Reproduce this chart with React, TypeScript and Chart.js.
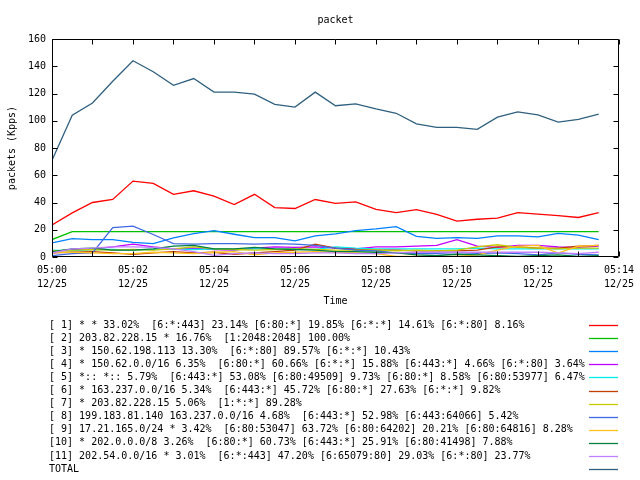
import React, { useEffect, useRef } from "react";
import { Chart, registerables } from "chart.js";

Chart.register(...registerables);

const times = [
  "05:00:00", "05:00:30", "05:01:00", "05:01:30", "05:02:00", "05:02:30", "05:03:00",
  "05:03:30", "05:04:00", "05:04:30", "05:05:00", "05:05:30", "05:06:00", "05:06:30",
  "05:07:00", "05:07:30", "05:08:00", "05:08:30", "05:09:00", "05:09:30", "05:10:00",
  "05:10:30", "05:11:00", "05:11:30", "05:12:00", "05:12:30", "05:13:00", "05:13:30",
];

const s1 = [23.5, 32.4, 40, 42.2, 55.7, 54, 46, 48.6, 44.7, 38.5, 46, 36.3, 35.6, 42.2, 39.3, 40.5, 35, 32.6, 34.8, 31.2, 26.3, 27.7, 28.5, 32.6, 31.4, 30.4, 29, 32.6];
const s2 = [12.8, 18.6, 18.6, 18.6, 18.6, 18.6, 18.6, 18.6, 18.6, 18.6, 18.6, 18.6, 18.6, 18.6, 18.6, 18.6, 18.6, 18.6, 18.6, 18.6, 18.6, 18.6, 18.6, 18.6, 18.6, 18.6, 18.6, 18.6];
const s3 = [10.3, 13.5, 12.8, 12.8, 10.8, 9.8, 14, 17.2, 19.4, 16.7, 14.2, 14.2, 11.8, 15.5, 17, 19.4, 20.6, 22.3, 15.2, 13.7, 14.2, 13.7, 15.5, 15.5, 14.7, 17.4, 16, 12.8];
const s4 = [4, 5.5, 6, 7.5, 9.5, 7.5, 6, 6.5, 5.5, 5, 6.5, 7.5, 7, 7.5, 6.5, 6, 7.5, 7.5, 8, 8.6, 12.8, 8, 7, 8.5, 8.5, 7.5, 7, 8];
const s5 = [5, 4.5, 5.5, 5.5, 5, 5.5, 6, 5.5, 6, 5.5, 6, 6, 6, 5.5, 7.5, 6.5, 6, 6, 6, 6, 6, 6.5, 6, 6, 6, 6, 6, 6];
const s6 = [3, 3.5, 4, 3, 2, 3, 4, 3, 3.5, 2, 3, 4, 5, 9.5, 6.5, 5.5, 5, 5, 4.5, 4.5, 4.5, 5, 7.5, 7.5, 6.5, 6.5, 8, 8.5];
const s7 = [4.5, 5, 5.5, 5, 5.5, 5, 6, 7.5, 6, 5.5, 5, 5.5, 6, 5.5, 5, 5, 5, 4.5, 5, 4.5, 5, 7.5, 9, 7, 6.5, 6, 6.5, 6.5];
const s8 = [1, 2.5, 3, 21.6, 22.6, 16.5, 9.8, 9.5, 9.8, 9.8, 9.5, 9.8, 9.5, 8.6, 6.5, 5, 4.5, 3, 2.5, 2.5, 2, 2.5, 3, 2.5, 1.5, 3, 2, 1.5];
const s9 = [3.5, 3.5, 3, 2.5, 2.5, 3.5, 3, 2.5, 3.5, 4, 1.5, 3, 3.5, 4, 3.5, 3, 2.5, 0.5, 0.5, 0.5, 0.5, 1.5, 5, 8, 8.6, 2.9, 7.9, 8.5];
const s10 = [4, 6, 6.5, 5, 5, 6, 8, 8.5, 6, 6, 7, 6, 5.5, 5, 4, 4, 3.5, 3, 1.5, 1, 2, 1.5, 1, 0.5, 1, 1.5, 0.5, 1];
const s11 = [3, 6, 6.5, 7.5, 7.5, 7, 6, 4, 1.2, 2.5, 3, 2.5, 2.5, 3, 3, 2.5, 2.5, 3, 3.5, 3.5, 3.5, 3.5, 3.5, 3.5, 3.5, 3, 2.5, 3.5];
const total = [71, 104, 113, 129, 144, 136, 126, 131, 121, 121, 119.5, 112, 110, 121, 111, 112.4, 108.7, 105.5, 97.7, 95.2, 95.2, 93.7, 102.6, 106.5, 104.3, 99, 101, 104.8];

const seriesLabels = [
  "[ 1] * * 33.02%  [6:*:443] 23.14% [6:80:*] 19.85% [6:*:*] 14.61% [6:*:80] 8.16%",
  "[ 2] 203.82.228.15 * 16.76%  [1:2048:2048] 100.00%",
  "[ 3] * 150.62.198.113 13.30%  [6:*:80] 89.57% [6:*:*] 10.43%",
  "[ 4] * 150.62.0.0/16 6.35%  [6:80:*] 60.66% [6:*:*] 15.88% [6:443:*] 4.66% [6:*:80] 3.64%",
  "[ 5] *:: *:: 5.79%  [6:443:*] 53.08% [6:80:49509] 9.73% [6:80:*] 8.58% [6:80:53977] 6.47%",
  "[ 6] * 163.237.0.0/16 5.34%  [6:443:*] 45.72% [6:80:*] 27.63% [6:*:*] 9.82%",
  "[ 7] * 203.82.228.15 5.06%  [1:*:*] 89.28%",
  "[ 8] 199.183.81.140 163.237.0.0/16 4.68%  [6:443:*] 52.98% [6:443:64066] 5.42%",
  "[ 9] 17.21.165.0/24 * 3.42%  [6:80:53047] 63.72% [6:80:64202] 20.21% [6:80:64816] 8.28%",
  "[10] * 202.0.0.0/8 3.26%  [6:80:*] 60.73% [6:443:*] 25.91% [6:80:41498] 7.88%",
  "[11] 202.54.0.0/16 * 3.01%  [6:*:443] 47.20% [6:65079:80] 29.03% [6:*:80] 23.77%",
  "TOTAL",
];

const seriesColors = [
  "#ff0000", "#00c000", "#0080ff", "#c000ff", "#00eeee", "#c04000",
  "#c8c800", "#4169e1", "#ffc020", "#008040", "#c080ff", "#306080",
];

const xTickHours = ["05:00", "05:02", "05:04", "05:06", "05:08", "05:10", "05:12", "05:14"];
const xTickDate = "12/25";
const chartTitle = "packet";
const yTitle = "packets (Kpps)";
const xTitle = "Time";

const FONT = "'DejaVu Sans Mono', monospace";

function toMinutes(t: string): number {
  const [h, m, s] = t.split(":").map(Number);
  return (h - 5) * 60 + m + s / 60;
}

const decorPlugin = {
  id: "decor",
  afterDatasetsDraw(chart: any) {
    const { ctx, chartArea: a, scales } = chart;
    const xs = scales.x;
    const ys = scales.y;
    const L = Math.round(a.left) + 0.5;
    const R = Math.round(a.right) - 0.5;
    const T = Math.round(a.top) + 0.5;
    const B = Math.round(a.bottom) - 0.5;
    ctx.save();
    ctx.strokeStyle = "#000";
    ctx.lineWidth = 1;
    ctx.beginPath();
    ctx.rect(L, T, R - L, B - T);
    const tl = 5;
    for (let v = 0; v <= 14; v += 1) {
      const px = Math.round(xs.getPixelForValue(v)) + 0.5;
      ctx.moveTo(px, B);
      ctx.lineTo(px, B - tl);
      ctx.moveTo(px, T);
      ctx.lineTo(px, T + tl);
    }
    for (let v = 0; v <= 160; v += 20) {
      const py = Math.round(ys.getPixelForValue(v)) + 0.5;
      ctx.moveTo(L, py);
      ctx.lineTo(L + tl, py);
      ctx.moveTo(R, py);
      ctx.lineTo(R - tl, py);
    }
    ctx.stroke();

    ctx.fillStyle = "#000";
    ctx.font = "10px " + FONT;
    ctx.textAlign = "center";
    ctx.textBaseline = "middle";
    ctx.fillText(chartTitle, (a.left + a.right) / 2, 20);

    ctx.textAlign = "left";
    chart.data.datasets.forEach((ds: any, i: number) => {
      const y = 325 + i * 13.1;
      ctx.fillStyle = "#000";
      ctx.fillText(ds.label, 49, y);
      const ly = Math.round(y) + 0.5;
      ctx.strokeStyle = ds.borderColor;
      ctx.lineWidth = 1.3;
      ctx.beginPath();
      ctx.moveTo(589, ly);
      ctx.lineTo(618, ly);
      ctx.stroke();
    });
    ctx.restore();
  },
};

export default function App() {
  const ref = useRef<HTMLCanvasElement | null>(null);
  useEffect(() => {
    if (!ref.current) return;
    const xVals = times.map(toMinutes);
    const all = [s1, s2, s3, s4, s5, s6, s7, s8, s9, s10, s11, total];
    const datasets = all.map((arr, i) => ({
      label: seriesLabels[i],
      data: arr.map((v, j) => ({ x: xVals[j], y: v })),
      borderColor: seriesColors[i],
      backgroundColor: seriesColors[i],
      borderWidth: 1.3,
      pointRadius: 0,
      tension: 0,
      fill: false,
      order: -i,
    }));
    const chart = new Chart(ref.current, {
      type: "line",
      data: { datasets },
      plugins: [decorPlugin],
      options: {
        responsive: false,
        animation: false,
        events: [],
        layout: { padding: { top: 39, right: 18, bottom: 173, left: 0 } },
        plugins: {
          legend: { display: false },
          title: { display: false },
          tooltip: { enabled: false },
        },
        scales: {
          x: {
            type: "linear",
            min: 0,
            max: 14,
            grid: { display: false, drawTicks: false },
            border: { display: false },
            afterFit: (s: any) => { s.height = 50; },
            ticks: {
              stepSize: 1,
              autoSkip: false,
              maxRotation: 0,
              padding: 6,
              color: "#000",
              font: { family: FONT, size: 10, lineHeight: 1.4 },
              callback: (v: any) => {
                const n = Number(v);
                if (n % 2 !== 0) return "";
                return [xTickHours[n / 2], xTickDate];
              },
            },
            title: {
              display: true,
              text: xTitle,
              color: "#000",
              font: { family: FONT, size: 10, lineHeight: 1.2 },
              padding: { top: 0, bottom: 0 },
            },
          },
          y: {
            min: 0,
            max: 160,
            grid: { display: false, drawTicks: false },
            border: { display: false },
            afterFit: (s: any) => { s.width = 52; },
            ticks: {
              stepSize: 20,
              padding: 6,
              color: "#000",
              font: { family: FONT, size: 10 },
            },
            title: {
              display: true,
              text: yTitle,
              color: "#000",
              font: { family: FONT, size: 10, lineHeight: 1.2 },
              padding: { top: 6, bottom: 0 },
            },
          },
        },
      },
    } as any);
    return () => chart.destroy();
  }, []);
  return (
    <div style={{ position: "fixed", left: 0, top: 0, width: 640, height: 480, background: "#fff" }}>
      <canvas ref={ref} width={640} height={480} style={{ width: 640, height: 480, display: "block" }} />
    </div>
  );
}
